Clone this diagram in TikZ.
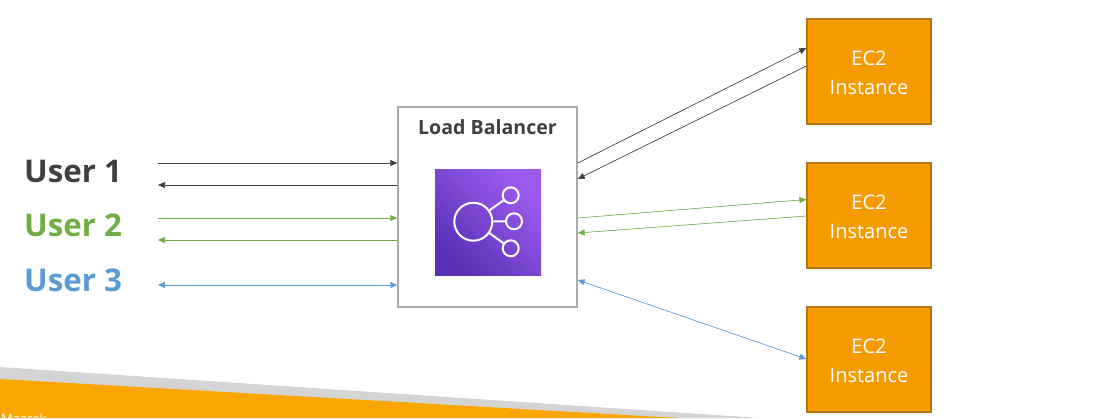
\documentclass[tikz,border=0pt]{standalone}
\usepackage{fontspec}
\setmainfont{Open Sans}
\usetikzlibrary{arrows.meta}
\definecolor{darkc}{HTML}{404040}
\definecolor{greenc}{HTML}{70AD47}
\definecolor{bluec}{HTML}{5B9BD5}
\definecolor{ecfill}{HTML}{F59B00}
\definecolor{ecdraw}{HTML}{B8740A}
\definecolor{bandgray}{HTML}{D4D4D4}
\definecolor{bandorange}{HTML}{F9A600}
\definecolor{purplea}{HTML}{5A30B5}
\definecolor{purpleb}{HTML}{9D5CF0}
\tikzset{
  ecbox/.style={draw=ecdraw,fill=ecfill,line width=1.3pt,minimum width=124pt,minimum height=105pt,inner sep=0pt},
  ectext/.style={inner sep=0pt,text=white,font=\fontsize{20}{28.5}\selectfont,align=center},
  userlabel/.style={anchor=west,inner sep=0pt,font=\fontsize{31.3}{32}\selectfont\bfseries},
  conn/.style={line width=0.6pt,-{Triangle[length=7pt,width=6pt]}},
  connboth/.style={line width=0.6pt,{Triangle[length=7pt,width=6pt]}-{Triangle[length=7pt,width=6pt]}},
  iconline/.style={draw=white,line width=2pt},
}
\begin{document}
\begin{tikzpicture}[x=1pt,y=-1pt]
\useasboundingbox (0,0) rectangle (1098,418);
\clip (0,0) rectangle (1098,418);
% bottom bands
\fill[bandgray] (0,367) -- (760,418) -- (0,418) -- cycle;
\fill[bandorange] (0,379) -- (678,418) -- (0,418) -- cycle;
\node[anchor=west,inner sep=0pt,text=white,font=\fontsize{13}{13}\selectfont] (author) at (1,419) {Maarek};
% clipped remains of the title line
\node[inner sep=0pt,text=darkc,font=\fontsize{22}{22}\selectfont] (po) at (141,-10.5) {(};
\node[inner sep=0pt,text=darkc,font=\fontsize{22}{22}\selectfont] (pc) at (350,-10.5) {)};
% users
\node[userlabel,text=darkc] (u1) at (24,171) {User 1};
\node[userlabel,text=greenc] (u2) at (24,225) {User 2};
\node[userlabel,text=bluec] (u3) at (24,280) {User 3};
% load balancer
\node[draw=black!33,fill=white,line width=1.4pt,minimum width=179pt,minimum height=200pt,inner sep=0pt] (lb) at (487.5,207) {};
\node[inner sep=0pt,text=darkc,font=\fontsize{19.6}{20}\selectfont\bfseries] (lbt) at (487.5,127) {Load Balancer};
\node[minimum width=106pt,minimum height=106pt,inner sep=0pt,left color=purplea,right color=purpleb,shading angle=135] (icon) at (488,222) {};
\node[circle,iconline,draw,minimum size=38pt,inner sep=0pt] (hub) at (473.3,221.7) {};
\node[circle,iconline,draw,minimum size=16pt,inner sep=0pt] (sa) at (510.7,195.3) {};
\node[circle,iconline,draw,minimum size=16pt,inner sep=0pt] (sb) at (514,221.3) {};
\node[circle,iconline,draw,minimum size=16pt,inner sep=0pt] (sc) at (510.7,248.3) {};
\draw[iconline] (hub) -- (sa);
\draw[iconline] (hub) -- (sb);
\draw[iconline] (hub) -- (sc);
% EC2
\node[ecbox] (e1) at (869,71.5) {};
\node[ecbox] (e2) at (869,215.5) {};
\node[ecbox] (e3) at (869,359.5) {};
\node[ectext] (e1t) at (869,73) {EC2\\Instance};
\node[ectext] (e2t) at (869,217) {EC2\\Instance};
\node[ectext] (e3t) at (869,361) {EC2\\Instance};
% connector ends on the left
\coordinate (ua) at (158,163);
\coordinate (ub) at (158,185);
\coordinate (uc) at (158,218);
\coordinate (ud) at (158,240);
\coordinate (ue) at (158,285);
\draw[conn,draw=darkc,fill=darkc] (ua) -- (ua -| lb.west);
\draw[conn,draw=darkc,fill=darkc] (ub -| lb.west) -- (ub);
\draw[conn,draw=greenc,fill=greenc] (uc) -- (uc -| lb.west);
\draw[conn,draw=greenc,fill=greenc] (ud -| lb.west) -- (ud);
\draw[connboth,draw=bluec,fill=bluec] (ue) -- (ue -| lb.west);
% connector ends on the right
\coordinate (ra) at (577,163);
\coordinate (rb) at (577,179);
\coordinate (rc) at (577,218);
\coordinate (rd) at (577,233);
\coordinate (re) at (577,280);
\coordinate (ea) at (807,48);
\coordinate (eb) at (807,66);
\coordinate (ec) at (807,199.5);
\coordinate (ed) at (807,216);
\coordinate (ee) at (807,359);
\draw[conn,draw=darkc,fill=darkc] (ra -| lb.east) -- (ea -| e1.west);
\draw[conn,draw=darkc,fill=darkc] (eb -| e1.west) -- (rb -| lb.east);
\draw[conn,draw=greenc,fill=greenc] (rc -| lb.east) -- (ec -| e2.west);
\draw[conn,draw=greenc,fill=greenc] (ed -| e2.west) -- (rd -| lb.east);
\draw[connboth,draw=bluec,fill=bluec] (re -| lb.east) -- (ee -| e3.west);
\end{tikzpicture}
\end{document}
